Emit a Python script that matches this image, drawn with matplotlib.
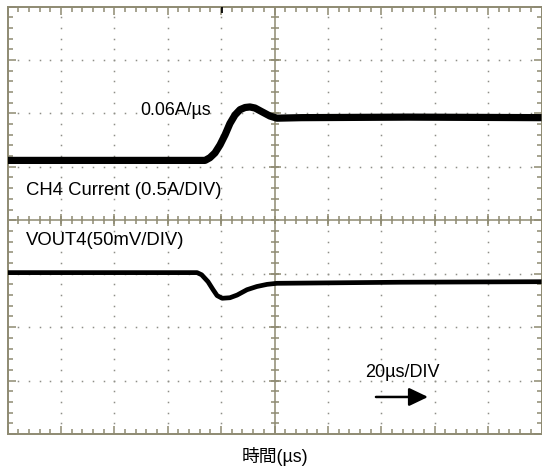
import matplotlib
matplotlib.use("Agg")
import matplotlib.pyplot as plt
import numpy as np

# ---- data (time in µs, values in screen divisions from bottom) ----
ch4_time_us = [0, 74.0, 75.8, 77.7, 79.6, 81.5, 83.3, 85.2, 87.1, 89.0, 90.8, 92.7, 95.3, 98.3, 100.9, 110, 150, 200]
ch4_div     = [5.12, 5.12, 5.17, 5.26, 5.41, 5.60, 5.81, 5.97, 6.07, 6.11, 6.12, 6.10, 6.03, 5.95, 5.91, 5.92, 5.93, 5.92]

vout_time_us = [0, 71, 72.7, 75.1, 77, 78.5, 80.4, 83.3, 86, 89.7, 93.4, 97.2, 100.9, 147, 200]
vout_div     = [3.02, 3.02, 2.98, 2.85, 2.70, 2.59, 2.54, 2.55, 2.60, 2.70, 2.76, 2.80, 2.82, 2.84, 2.85]

x_divs, y_divs = 10, 8
us_per_div = 20
trigger_us = 80.5

label_slew = "0.06A/µs"
label_ch4 = "CH4 Current (0.5A/DIV)"
label_vout = "VOUT4(50mV/DIV)"
label_time = "20µs/DIV"
xlabel = "時間(µs)"

W, H = 542, 472
fig = plt.figure(figsize=(W / 100, H / 100), dpi=100)
ax = fig.add_axes([7.5 / W, 1 - 434 / H, 534 / W, 427.5 / H])
xmax = x_divs * us_per_div
ax.set_xlim(0, xmax)
ax.set_ylim(0, y_divs)

grid_c = "#8e8a72"
dot_c = "#8f8f88"
for s in ax.spines.values():
    s.set_color(grid_c)
    s.set_linewidth(1.4)

ax.set_xticks(np.arange(0, xmax + 1, us_per_div))
ax.set_xticks(np.arange(0, xmax + 0.1, us_per_div / 5), minor=True)
ax.set_yticks(np.arange(0, y_divs + 0.01, 1))
ax.set_yticks(np.arange(0, y_divs + 0.01, 0.2), minor=True)
ax.tick_params(which="both", direction="in", top=True, right=True,
               labelbottom=False, labelleft=False, color=grid_c, width=1.1)
ax.tick_params(which="major", length=5.8)
ax.tick_params(which="minor", length=3.3)

# dotted graticule
xmaj = [k * us_per_div for k in range(1, x_divs) if k != x_divs // 2]
ymaj = [k for k in range(1, y_divs) if k != y_divs // 2]
xmin_pos = np.arange(us_per_div / 5, xmax, us_per_div / 5)
ymin_pos = np.arange(0.2, y_divs, 0.2)
for xv in xmaj:
    ax.plot(np.full_like(ymin_pos, xv), ymin_pos, ls="none", marker="s",
            ms=1.1, mew=0, color=dot_c, zorder=1)
for yv in ymaj:
    ax.plot(xmin_pos, np.full_like(xmin_pos, yv), ls="none", marker="s",
            ms=1.1, mew=0, color=dot_c, zorder=1)

# center cross with ticks
xc, yc = xmax / 2, y_divs / 2
ax.axhline(yc, color=grid_c, lw=1.1, zorder=1)
ax.axvline(xc, color=grid_c, lw=1.1, zorder=1)
ax.plot(xmin_pos, np.full_like(xmin_pos, yc), ls="none", marker="|", ms=5.8,
        mew=1.1, color=grid_c, zorder=1)
ax.plot(xmaj, [yc] * len(xmaj), ls="none", marker="|", ms=8.5, mew=1.1,
        color=grid_c, zorder=1)
ax.plot(np.full_like(ymin_pos, xc), ymin_pos, ls="none", marker="_", ms=5.8,
        mew=1.1, color=grid_c, zorder=1)
ax.plot([xc] * len(ymaj), ymaj, ls="none", marker="_", ms=8.5, mew=1.1,
        color=grid_c, zorder=1)

# trigger marker (short black tick hanging from the top edge)
ax.plot([trigger_us, trigger_us], [y_divs, y_divs - 0.13], color="black",
        lw=1.3, solid_capstyle="butt", clip_on=False, zorder=5)

# traces
ax.plot(ch4_time_us, ch4_div, color="black", lw=5.2, solid_joinstyle="round",
        solid_capstyle="butt", zorder=4)
ax.plot(vout_time_us, vout_div, color="black", lw=3.4, solid_joinstyle="round",
        solid_capstyle="butt", zorder=4)

font = "Liberation Sans"
fs = 13.3
ax.text(49.6, 5.97, label_slew, fontsize=12.8, family=font, va="baseline", ha="left")
ax.text(7.0, 4.476, label_ch4, fontsize=fs, family=font, va="baseline", ha="left")
ax.text(7.0, 3.54, label_vout, fontsize=fs, family=font, va="baseline", ha="left")
ax.text(133.9, 1.06, label_time, fontsize=13.0, family=font, va="baseline", ha="left")

ax.annotate("", xy=(157.5, 0.693), xytext=(138.0, 0.693),
            arrowprops=dict(arrowstyle="-|>,head_length=1.15,head_width=0.55",
                            mutation_scale=10, color="black", lw=1.8,
                            shrinkA=0, shrinkB=0))

fig.text(274.5 / W, 1 - 456.5 / H, xlabel, fontsize=12.8,
         family=[font, "Noto Sans CJK JP"], ha="center", va="center")

fig.savefig("out.png", dpi=100)
